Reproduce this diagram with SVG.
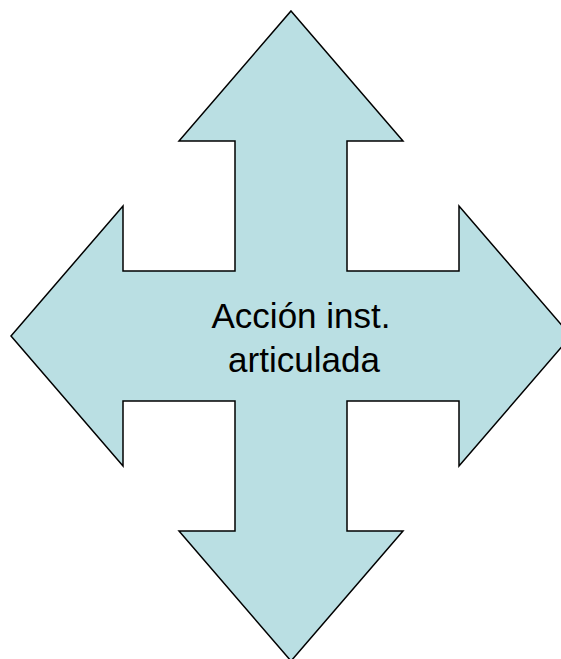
<svg xmlns="http://www.w3.org/2000/svg" width="561" height="659" viewBox="0 0 561 659">
<style>
.shape{fill:#BADFE3;stroke:#000;stroke-width:1.5;stroke-linejoin:miter}
.lbl{font-family:"Liberation Sans",Arial,sans-serif;font-size:35px;fill:#000;text-anchor:middle}
</style>
<rect width="561" height="659" fill="#fff"/>
<g id="quad-arrow">
<polygon class="shape" points="291,11 403,141 347,141 347,271 459,271 459,206 571,336 459,466 459,401 347,401 347,531 403,531 291,661 179,531 235,531 235,401 123,401 123,466 11,336 123,206 123,271 235,271 235,141 179,141"/>
<text class="lbl" x="301" y="328">Acción inst.</text>
<text class="lbl" x="304" y="372">articulada</text>
</g>
<g id="connectors"></g>
</svg>
